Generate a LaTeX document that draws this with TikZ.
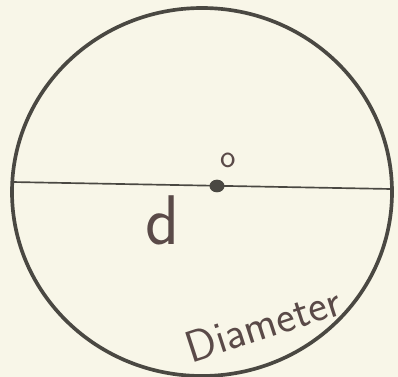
\documentclass[tikz,border=0pt]{standalone}
\usepackage{tikz}
\usetikzlibrary{positioning,calc,shapes.geometric}
\definecolor{paper}{HTML}{F8F6E8}
\definecolor{pencil}{HTML}{4A4842}
\definecolor{ink}{HTML}{5A4A48}

\begin{document}
\begin{tikzpicture}[x=0.03cm,y=-0.03cm,
  rim/.style={draw=pencil,line width=1.1mm},
  axis/.style={draw=pencil,line width=0.5mm},
  hand/.style={text=ink,font=\sffamily\fontsize{38}{38}\selectfont,inner sep=0pt}]
\fill[paper] (0,0) rectangle (398,377);
\useasboundingbox (0,0) rectangle (398,377);
% circle
\draw[rim] (202,192) ellipse [x radius=190,y radius=184];
\coordinate (dl) at (12,182);
\coordinate (dr) at (391,189);
\draw[axis] (dl) -- (dr);
\node[ellipse,fill=pencil,minimum width=0.45cm,minimum height=0.38cm,inner sep=0pt] (ctr) at (217,186) {};
\node[hand,font=\sffamily\fontsize{28}{28}\selectfont] (o) at (228,160) {o};
\node[hand,font=\sffamily\fontsize{60}{60}\selectfont] (d) at (163,220) {d};
\node[hand,rotate=18] (dia) at (263,324) {Diameter};
\end{tikzpicture}
\end{document}
